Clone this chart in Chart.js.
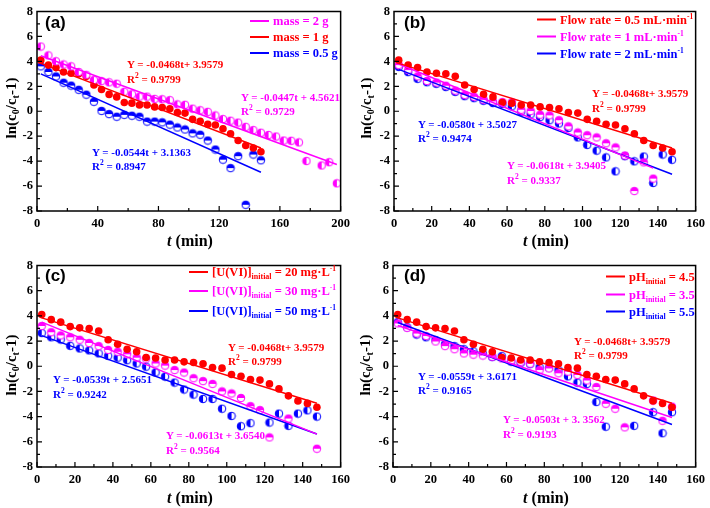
<!DOCTYPE html>
<html>
<head>
<meta charset="UTF-8">
<title>ln(c0/ct-1) vs t</title>
<script src="https://cdn.jsdelivr.net/npm/chart.js"></script>
<style>
  body { margin: 0; background: #fff; }
  #wrap { position: relative; width: 710px; height: 508px; background: #fff; overflow: hidden; }
  canvas { position: absolute; }
  .t { position: absolute; white-space: nowrap; font-family: "Liberation Serif", serif; font-weight: bold; transform: translateY(-50%); }
  .ann { font-size: 11px; line-height: 12px; }
  .leg { font-size: 12.5px; line-height: 14px; }
  .leg span.ln { display: inline-block; width: 19px; height: 2px; vertical-align: middle; margin-right: 4px; position: relative; top: -1px; }
  .leg sub { font-size: 8px; vertical-align: -3px; }
  .leg sup, .ann sup { font-size: 7.5px; vertical-align: 5px; }
  .lab { position: absolute; font-family: "Liberation Sans", sans-serif; font-weight: bold; font-size: 17px; transform: translateY(-50%); }
  .ytit { position: absolute; font-family: "Liberation Serif", serif; font-weight: bold; font-size: 15px; white-space: nowrap; transform: translate(-50%, -50%) rotate(-90deg); }
  .ytit sub { font-size: 10px; vertical-align: -3px; }
  .xtit { position: absolute; font-family: "Liberation Serif", serif; font-weight: bold; font-size: 16px; white-space: nowrap; transform: translate(-50%, -50%); }
</style>
</head>
<body>
<div id="wrap">
  <canvas id="ca" width="355" height="254" style="left:0;top:0"></canvas>
  <canvas id="cb" width="355" height="254" style="left:355px;top:0"></canvas>
  <canvas id="cc" width="355" height="254" style="left:0;top:254px"></canvas>
  <canvas id="cd" width="355" height="254" style="left:355px;top:254px"></canvas>

  <!-- axis titles -->
  <div class="ytit" style="left:12px;top:108px">ln(c<sub>0</sub>/c<sub>t</sub>-1)</div>
  <div class="ytit" style="left:367px;top:108px">ln(c<sub>0</sub>/c<sub>t</sub>-1)</div>
  <div class="ytit" style="left:12px;top:365px">ln(c<sub>0</sub>/c<sub>t</sub>-1)</div>
  <div class="ytit" style="left:366px;top:365px">ln(c<sub>0</sub>/c<sub>t</sub>-1)</div>
  <div class="xtit" style="left:190px;top:241px"><i>t</i> (min)</div>
  <div class="xtit" style="left:546px;top:241px"><i>t</i> (min)</div>
  <div class="xtit" style="left:190px;top:498px"><i>t</i> (min)</div>
  <div class="xtit" style="left:546px;top:498px"><i>t</i> (min)</div>

  <!-- panel labels -->
  <div class="lab" style="left:45px;top:23px">(a)</div>
  <div class="lab" style="left:404px;top:23px">(b)</div>
  <div class="lab" style="left:45px;top:276px">(c)</div>
  <div class="lab" style="left:404px;top:276px">(d)</div>

  <!-- legends -->
  <div class="t leg" style="left:250px;top:21px;color:#ff00ff"><span class="ln" style="background:#ff00ff"></span>mass = 2 g</div>
  <div class="t leg" style="left:250px;top:37px;color:#ff0000"><span class="ln" style="background:#ff0000"></span>mass = 1 g</div>
  <div class="t leg" style="left:250px;top:53px;color:#0000ff"><span class="ln" style="background:#0000ff"></span>mass = 0.5 g</div>

  <div class="t leg" style="left:537px;top:18px;color:#ff0000"><span class="ln" style="background:#ff0000"></span>Flow rate = 0.5 mL·min<sup>-1</sup></div>
  <div class="t leg" style="left:537px;top:35px;color:#ff00ff"><span class="ln" style="background:#ff00ff"></span>Flow rate = 1 mL·min<sup>-1</sup></div>
  <div class="t leg" style="left:537px;top:52px;color:#0000ff"><span class="ln" style="background:#0000ff"></span>Flow rate = 2 mL·min<sup>-1</sup></div>

  <div class="t leg" style="left:189px;top:273px;color:#ff0000"><span class="ln" style="background:#ff0000"></span>[U(VI)]<sub>initial</sub> = 20 mg·L<sup>-1</sup></div>
  <div class="t leg" style="left:189px;top:292px;color:#ff00ff"><span class="ln" style="background:#ff00ff"></span>[U(VI)]<sub>initial</sub> = 30 mg·L<sup>-1</sup></div>
  <div class="t leg" style="left:189px;top:312px;color:#0000ff"><span class="ln" style="background:#0000ff"></span>[U(VI)]<sub>initial</sub> = 50 mg·L<sup>-1</sup></div>

  <div class="t leg" style="left:606px;top:279px;color:#ff0000"><span class="ln" style="background:#ff0000"></span>pH<sub>initial</sub> = 4.5</div>
  <div class="t leg" style="left:606px;top:297px;color:#ff00ff"><span class="ln" style="background:#ff00ff"></span>pH<sub>initial</sub> = 3.5</div>
  <div class="t leg" style="left:606px;top:314px;color:#0000ff"><span class="ln" style="background:#0000ff"></span>pH<sub>initial</sub> = 5.5</div>

  <!-- fit equations -->
  <div class="t ann" style="left:127px;top:64px;color:#ff0000">Y = -0.0468t+ 3.9579</div>
  <div class="t ann" style="left:127px;top:77px;color:#ff0000">R<sup>2</sup> = 0.9799</div>
  <div class="t ann" style="left:241px;top:97px;color:#ff00ff">Y = -0.0447t + 4.5621</div>
  <div class="t ann" style="left:241px;top:109px;color:#ff00ff">R<sup>2</sup> = 0.9729</div>
  <div class="t ann" style="left:92px;top:152px;color:#0000ff">Y = -0.0544t + 3.1363</div>
  <div class="t ann" style="left:92px;top:164px;color:#0000ff">R<sup>2</sup> = 0.8947</div>

  <div class="t ann" style="left:592px;top:93px;color:#ff0000">Y = -0.0468t+ 3.9579</div>
  <div class="t ann" style="left:592px;top:106px;color:#ff0000">R<sup>2</sup> = 0.9799</div>
  <div class="t ann" style="left:418px;top:124px;color:#0000ff">Y = -0.0580t + 3.5027</div>
  <div class="t ann" style="left:418px;top:136px;color:#0000ff">R<sup>2</sup> = 0.9474</div>
  <div class="t ann" style="left:507px;top:165px;color:#ff00ff">Y = -0.0618t + 3.9405</div>
  <div class="t ann" style="left:507px;top:178px;color:#ff00ff">R<sup>2</sup> = 0.9337</div>

  <div class="t ann" style="left:228px;top:347px;color:#ff0000">Y = -0.0468t+ 3.9579</div>
  <div class="t ann" style="left:228px;top:359px;color:#ff0000">R<sup>2</sup> = 0.9799</div>
  <div class="t ann" style="left:53px;top:379px;color:#0000ff">Y = -0.0539t + 2.5651</div>
  <div class="t ann" style="left:53px;top:392px;color:#0000ff">R<sup>2</sup> = 0.9242</div>
  <div class="t ann" style="left:166px;top:435px;color:#ff00ff">Y = -0.0613t + 3.6540</div>
  <div class="t ann" style="left:166px;top:448px;color:#ff00ff">R<sup>2</sup> = 0.9564</div>

  <div class="t ann" style="left:574px;top:341px;color:#ff0000">Y = -0.0468t+ 3.9579</div>
  <div class="t ann" style="left:574px;top:353px;color:#ff0000">R<sup>2</sup> = 0.9799</div>
  <div class="t ann" style="left:418px;top:376px;color:#0000ff">Y = -0.0559t + 3.6171</div>
  <div class="t ann" style="left:418px;top:388px;color:#0000ff">R<sup>2</sup> = 0.9165</div>
  <div class="t ann" style="left:503px;top:419px;color:#ff00ff">Y = -0.0503t + 3. 3562</div>
  <div class="t ann" style="left:503px;top:432px;color:#ff00ff">R<sup>2</sup> = 0.9193</div>
</div>

<script>
  // sampling times (min)
  const tStd = [2.5, 7.5, 12.5, 17.5, 22.5, 27.5, 32.5, 37.5, 42.5, 47.5,
                52.5, 57.5, 62.5, 67.5, 72.5, 77.5, 82.5, 87.5, 92.5, 97.5,
                102.5, 107.5, 112.5, 117.5, 122.5, 127.5, 132.5, 137.5, 142.5, 147.5];

  // reference condition (red), shared by all four panels
  const yRed = [4.1, 3.7, 3.5, 3.15, 3.05, 3.0, 2.8, 2.1, 1.75, 1.35,
                1.15, 0.7, 0.65, 0.5, 0.5, 0.35, 0.3, 0.2, -0.1, -0.15,
                -0.65, -0.8, -1.05, -1.1, -1.4, -1.8, -2.35, -2.75, -2.95, -3.25];
  const fitRed = [[2.5, 3.841], [147.5, -2.945]];

  // (a) mass
  const tA2 = [2.5, 7.5, 12.5, 17.5, 22.5, 27.5, 32.5, 37.5, 42.5, 47.5,
               52.5, 57.5, 62.5, 67.5, 72.5, 77.5, 82.5, 87.5, 92.5, 97.5,
               102.5, 107.5, 112.5, 117.5, 122.5, 127.5, 132.5, 137.5, 142.5, 147.5,
               152.5, 157.5, 162.5, 167.5, 172.5, 177.5, 187.5, 192.5, 197.5];
  const yA2 = [5.19, 4.48, 4.01, 3.75, 3.6, 3.15, 2.92, 2.5, 2.42, 2.32,
               2.21, 1.56, 1.36, 1.17, 1.17, 0.99, 0.96, 0.89, 0.55, 0.52,
               0.21, 0.08, -0.05, -0.34, -0.63, -0.76, -0.91, -1.25, -1.51, -1.72,
               -1.9, -2.03, -2.35, -2.37, -2.5, -3.99, -4.35, -4.09, -5.78];
  const fitA2 = [[2.5, 4.450], [197.5, -4.266]];
  const yA05 = [3.6, 3.15, 2.79, 2.29, 2.06, 1.72, 1.33, 0.76, 0.03, -0.23,
                -0.44, -0.29, -0.36, -0.44, -0.83, -0.83, -0.89, -1.07, -1.3, -1.46,
                -1.77, -1.88, -2.35, -3.07, -3.88, -4.56, -3.6, -7.5, -3.47, -3.93];
  const fitA05 = [[2.5, 3.000], [147.5, -4.888]];

  // (b) flow rate
  const tB1 = [2.5, 7.5, 12.5, 17.5, 22.5, 27.5, 32.5, 37.5, 42.5, 47.5,
               52.5, 57.5, 62.5, 67.5, 72.5, 77.5, 82.5, 87.5, 92.5, 97.5,
               102.5, 107.5, 112.5, 117.5, 122.5, 127.5, 132.5, 137.5];
  const yB1 = [3.7, 3.3, 2.8, 2.43, 2.3, 2.05, 1.65, 1.31, 1.16, 0.92,
               0.79, 0.74, 0.72, 0.12, 0.02, -0.28, -0.33, -0.72, -1.21, -1.7,
               -1.92, -2.1, -2.57, -2.9, -3.55, -6.4, -4.1, -5.4];
  const fitB1 = [[2.5, 3.786], [137.5, -4.557]];
  const yB2 = [3.55, 3.14, 2.6, 2.33, 2.2, 1.94, 1.55, 1.21, 1.05, 0.84,
               0.66, 0.59, 0.4, -0.04, -0.25, -0.47, -0.72, -0.98, -1.34, -2.1,
               -2.7, -3.16, -3.7, -4.82, -3.6, -4.02, -3.63, -5.75, -3.47, -3.89];
  const fitB2 = [[2.5, 3.358], [147.5, -5.052]];

  // (c) initial U(VI) concentration
  const tC30 = [2.5, 7.5, 12.5, 17.5, 22.5, 27.5, 32.5, 37.5, 42.5, 47.5,
                52.5, 57.5, 62.5, 67.5, 72.5, 77.5, 82.5, 87.5, 92.5, 97.5,
                102.5, 107.5, 112.5, 117.5, 122.5, 132.5, 147.5];
  const yC30 = [3.2, 2.7, 2.45, 2.3, 2.1, 1.85, 1.6, 1.3, 1.15, 0.95,
                0.68, 0.6, 0.22, 0.05, -0.3, -0.5, -0.95, -1.18, -1.4, -2.0,
                -2.16, -2.52, -3.17, -3.48, -5.65, -4.15, -6.55];
  const fitC30 = [[2.5, 3.501], [147.5, -5.388]];
  const tC50 = [2.5, 7.5, 12.5, 17.5, 22.5, 27.5, 32.5, 37.5, 42.5, 47.5,
                52.5, 57.5, 62.5, 67.5, 72.5, 77.5, 82.5, 87.5, 92.5, 97.5,
                102.5, 107.5, 112.5, 122.5, 127.5, 132.5, 137.5, 142.5, 147.5];
  const yC50 = [2.64, 2.3, 2.12, 1.62, 1.41, 1.26, 1.02, 0.82, 0.68, 0.48,
                0.22, -0.03, -0.49, -0.82, -1.3, -1.85, -2.25, -2.6, -2.6, -3.37,
                -3.95, -4.76, -4.52, -4.47, -3.76, -4.73, -3.76, -3.5, -4.0];
  const fitC50 = [[2.5, 2.430], [147.5, -5.385]];

  // (d) initial pH
  const tD35 = [2.5, 7.5, 12.5, 17.5, 22.5, 27.5, 32.5, 37.5, 42.5, 47.5,
                52.5, 57.5, 62.5, 67.5, 72.5, 77.5, 82.5, 87.5, 92.5, 97.5,
                102.5, 107.5, 112.5, 117.5, 122.5, 137.5, 142.5, 147.5];
  const yD35 = [3.4, 3.05, 2.6, 2.4, 1.97, 1.6, 1.35, 1.02, 0.92, 0.85,
                0.75, 0.62, 0.45, 0.35, 0.2, -0.3, -0.17, -0.56, -0.43, -0.69,
                -1.13, -1.65, -2.98, -3.37, -4.85, -2.72, -4.33, -3.21];
  const fitD35 = [[2.5, 3.231], [147.5, -4.063]];
  const tD55 = [2.5, 7.5, 12.5, 17.5, 22.5, 27.5, 32.5, 37.5, 42.5, 47.5,
                52.5, 57.5, 62.5, 67.5, 72.5, 77.5, 82.5, 87.5, 92.5, 97.5,
                102.5, 107.5, 112.5, 127.5, 137.5, 142.5, 147.5];
  const yD55 = [3.5, 3.1, 2.52, 2.3, 2.08, 1.75, 1.6, 1.35, 1.18, 1.0,
                0.73, 0.8, 0.37, 0.25, 0.17, -0.08, -0.12, -0.3, -0.8, -1.3,
                -1.4, -2.84, -4.8, -4.73, -3.65, -5.32, -3.65];
  const fitD55 = [[2.5, 3.477], [147.5, -4.628]];

  const RED = '#ff0000', PINK = '#ff00ff', BLUE = '#0000ff';

  // half-filled circle markers
  function halfDot(color, half) {
    const c = document.createElement('canvas');
    c.width = 10; c.height = 10;
    const g = c.getContext('2d');
    const r = 3.8;
    g.beginPath(); g.arc(5, 5, r, 0, 2 * Math.PI); g.fillStyle = '#fff'; g.fill();
    g.beginPath();
    if (half === 'left') g.arc(5, 5, r, Math.PI / 2, Math.PI * 1.5);
    else g.arc(5, 5, r, Math.PI, Math.PI * 2);
    g.closePath(); g.fillStyle = color; g.fill();
    g.beginPath(); g.arc(5, 5, r, 0, 2 * Math.PI);
    g.strokeStyle = color; g.lineWidth = 1; g.stroke();
    return c;
  }

  function pts(ts, ys) { return ts.map((t, i) => ({x: t, y: ys[i]})); }

  function dots(ts, ys, color, style) {
    return {
      type: 'scatter', data: pts(ts, ys), showLine: false,
      pointStyle: style || 'circle', pointRadius: 3.8,
      backgroundColor: color, borderColor: color, borderWidth: 0
    };
  }
  function fit(f, color) {
    return {
      type: 'line', data: f.map(p => ({x: p[0], y: p[1]})),
      borderColor: color, borderWidth: 1.5, pointRadius: 0, fill: false
    };
  }

  // box frame + inward ticks
  const frame = {
    id: 'frame',
    afterDraw(chart, args, o) {
      const {ctx, chartArea: a, scales: {x, y}} = chart;
      ctx.save();
      ctx.strokeStyle = '#000';
      ctx.lineWidth = 1.2;
      ctx.beginPath();
      for (let v = x.min, i = 0; v <= x.max + 1e-6; v += o.xMinor, i++) {
        const px = x.getPixelForValue(v);
        ctx.moveTo(px, a.bottom); ctx.lineTo(px, a.bottom - (i % 2 ? 3 : 5));
      }
      for (let v = y.min, i = 0; v <= y.max + 1e-6; v += 1, i++) {
        const py = y.getPixelForValue(v);
        ctx.moveTo(a.left, py); ctx.lineTo(a.left + (i % 2 ? 3 : 5), py);
      }
      ctx.stroke();
      ctx.lineWidth = 1.5;
      ctx.strokeRect(a.left, a.top, a.right - a.left, a.bottom - a.top);
      ctx.restore();
    }
  };

  const tickFont = {family: 'Liberation Serif', weight: 'bold', size: 12.5};

  function panel(id, datasets, xMax, xStep, box) {
    new Chart(document.getElementById(id), {
      type: 'scatter',
      data: {datasets: datasets},
      plugins: [frame],
      options: {
        responsive: false,
        animation: false,
        layout: {autoPadding: false, padding: {left: 0, right: 355 - box.right, top: box.top, bottom: 0}},
        plugins: {legend: {display: false}, tooltip: {enabled: false}, frame: {xMinor: xStep / 2}},
        scales: {
          x: {
            type: 'linear', min: 0, max: xMax,
            grid: {display: false, drawTicks: false}, border: {display: false},
            ticks: {stepSize: xStep, padding: 5, color: '#000', font: tickFont},
            afterFit: s => { s.height = 254 - box.bottom; }
          },
          y: {
            min: -8, max: 8,
            grid: {display: false, drawTicks: false}, border: {display: false},
            ticks: {stepSize: 2, padding: 4, color: '#000', font: tickFont},
            afterFit: s => { s.width = box.left; }
          }
        }
      }
    });
  }

  panel('ca', [
    fit(fitA2, PINK), fit(fitRed, RED), fit(fitA05, BLUE),
    dots(tA2, yA2, PINK, halfDot(PINK, 'left')),
    dots(tStd, yRed, RED),
    dots(tStd, yA05, BLUE, halfDot(BLUE, 'top'))
  ], 200, 40, {left: 37, right: 343, top: 6, bottom: 211});

  panel('cb', [
    fit(fitRed, RED), fit(fitB1, PINK), fit(fitB2, BLUE),
    dots(tStd, yRed, RED),
    dots(tB1, yB1, PINK, halfDot(PINK, 'top')),
    dots(tStd, yB2, BLUE, halfDot(BLUE, 'left'))
  ], 160, 20, {left: 39, right: 344, top: 6, bottom: 211});

  panel('cc', [
    fit(fitRed, RED), fit(fitC30, PINK), fit(fitC50, BLUE),
    dots(tStd, yRed, RED),
    dots(tC30, yC30, PINK, halfDot(PINK, 'top')),
    dots(tC50, yC50, BLUE, halfDot(BLUE, 'left'))
  ], 160, 20, {left: 37, right: 344, top: 9, bottom: 213});

  panel('cd', [
    fit(fitRed, RED), fit(fitD35, PINK), fit(fitD55, BLUE),
    dots(tStd, yRed, RED),
    dots(tD35, yD35, PINK, halfDot(PINK, 'top')),
    dots(tD55, yD55, BLUE, halfDot(BLUE, 'left'))
  ], 160, 20, {left: 38, right: 344, top: 8, bottom: 213});
</script>
</body>
</html>
